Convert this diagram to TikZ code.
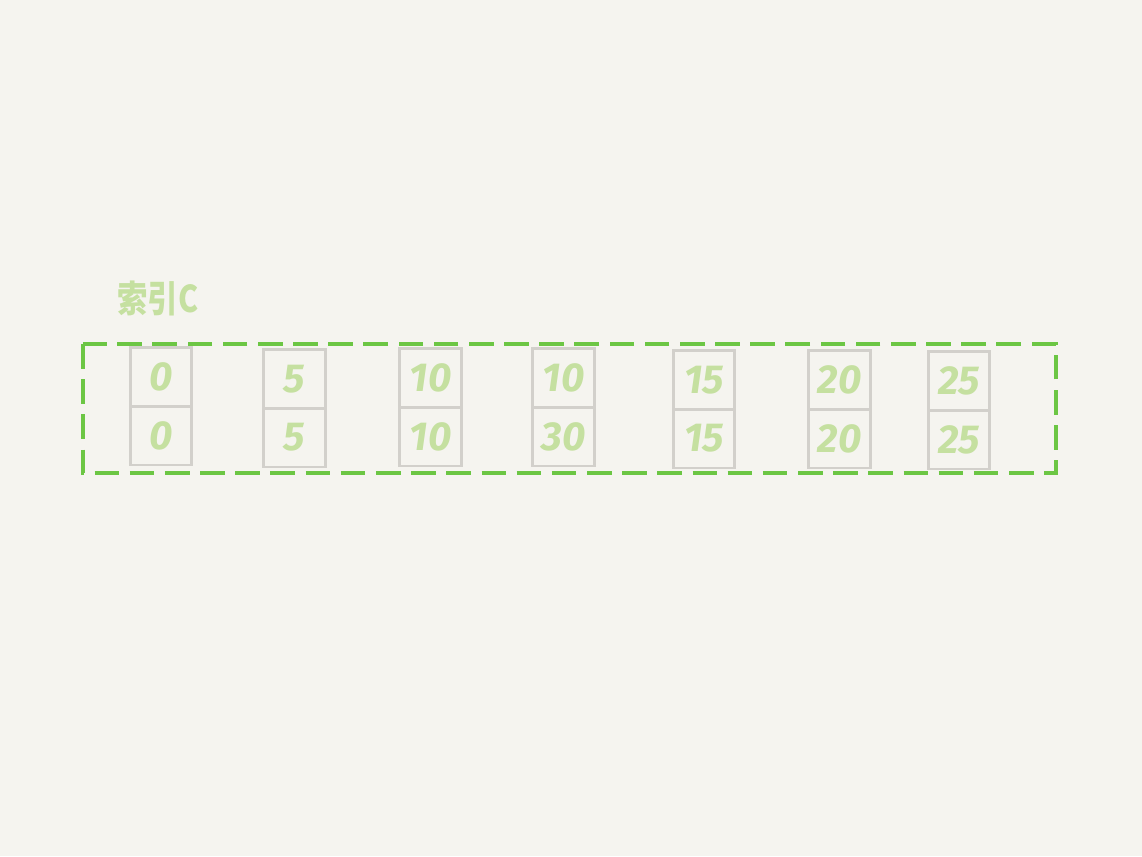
\documentclass[tikz,border=0pt]{standalone}
\usepackage{fontspec}
\newfontfamily\cjk{Noto Sans CJK SC}
\newfontfamily\digitfont{Fira Sans}
\usetikzlibrary{positioning}

\definecolor{paper}{HTML}{F5F4EF}
\definecolor{dashgreen}{HTML}{6CC644}
\definecolor{txtgreen}{HTML}{C5E0A0}
\definecolor{boxgray}{HTML}{D2D0CB}

\tikzset{
  cell/.style={draw=boxgray, line width=0.75pt, minimum width=0.615cm,
    minimum height=0.585cm, inner sep=0pt, outer sep=0pt, text=txtgreen,
    font=\digitfont\bfseries\itshape\fontsize{11.5}{12}\selectfont},
  groupbox/.style={draw=dashgreen, line width=0.9pt, dash pattern=on 7pt off 3pt}
}

\begin{document}
\begin{tikzpicture}[x=0.01cm, y=-0.01cm]

  %% page and background
  \fill[paper] (0,0) rectangle (1142,856);
  \useasboundingbox (0,0) rectangle (1142,856);

  %% index label
  \node[text=txtgreen, font=\cjk\bfseries\fontsize{10.5}{11}\selectfont, anchor=west,
    inner sep=0pt, xscale=0.82, transform shape]
    (idxlabel) at (117,298) {索引C};

  %% dashed frame around the index entries
  \draw[groupbox] (83,344) rectangle (1056,473);

  %% index entries: upper cell = c, lower cell = id
  \foreach \x/\y/\c/\k [count=\i] in {161/377/0/0, 294.5/379/5/5, 430.5/378/10/10,
      563.5/378/10/30, 704/380/15/15, 839.5/380/20/20, 959/381/25/25} {
    \node[cell] (key\i) at (\x,\y) {\c};
    \node[cell, below=0pt of key\i] (id\i) {\k};
  }

\end{tikzpicture}
\end{document}
